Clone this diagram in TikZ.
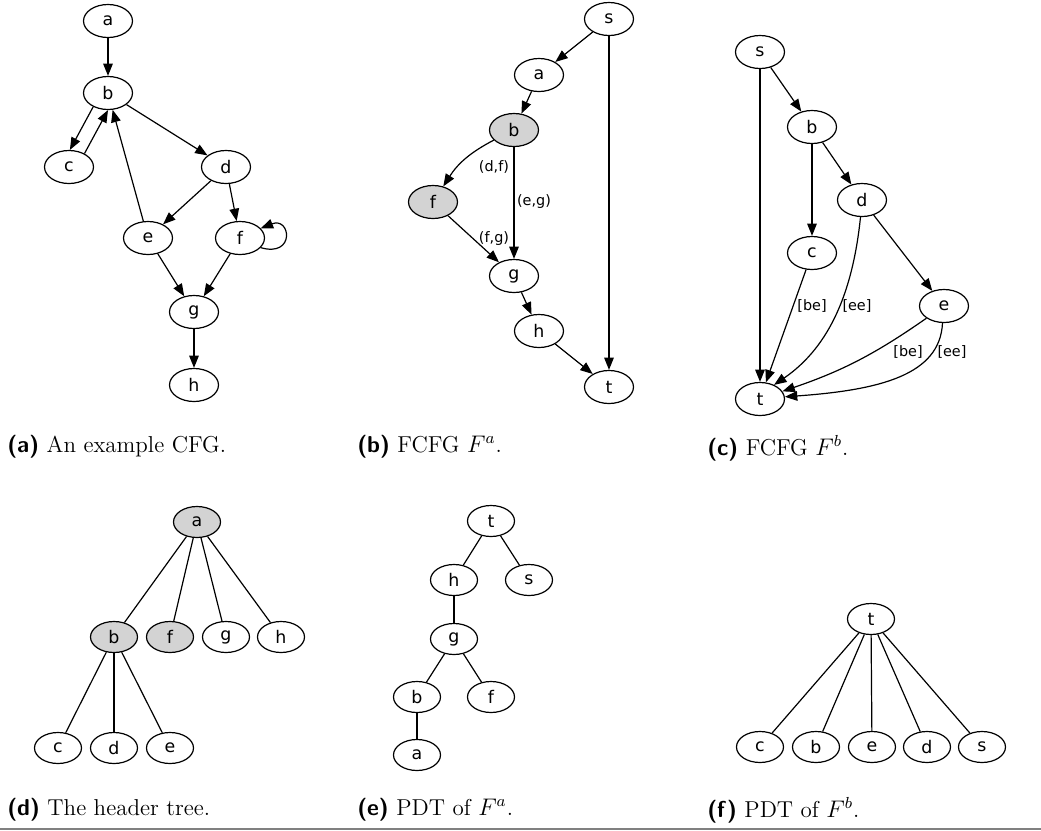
\documentclass[tikz,border=0pt]{standalone}
\usepackage{fontspec}
\newfontfamily\nodefont{DejaVu Sans}
\usetikzlibrary{shapes.geometric,arrows.meta}
\definecolor{nodegray}{RGB}{211,211,211}
\begin{document}
\begin{tikzpicture}[x=0.5pt,y=-0.5pt,
  gv/.style={ellipse,draw,line width=0.6pt,minimum width=24.5pt,minimum height=16.5pt,inner sep=0pt,font=\nodefont\fontsize{8.7}{10}\selectfont},
  tn/.style={gv,minimum width=23.5pt,minimum height=15.5pt},
  hl/.style={fill=nodegray},
  arr/.style={-{Triangle[length=6.2pt,width=4.8pt]},line width=0.6pt},
  ln/.style={line width=0.6pt},
  elab/.style={font=\nodefont\fontsize{7.2}{8}\selectfont,inner sep=0pt},
  captxt/.style={anchor=base west,inner sep=0pt,font=\fontsize{11.5}{13}\selectfont},
]
\useasboundingbox (0,0) rectangle (1041,831);

% ---------- (a) ----------
\node[gv] (a1) at (108,21) {a};
\node[gv] (b1) at (108,93) {b};
\node[gv] (c1) at (69,167) {c};
\node[gv] (d1) at (226,167) {d};
\node[gv] (e1) at (148,238) {e};
\node[gv] (f1) at (240,238) {f};
\node[gv] (g1) at (194,312) {g};
\node[gv] (h1) at (194,385) {h};
\draw[arr] (a1) -- (b1);
\draw[arr] (b1.223) -- (c1.87);
\draw[arr] (c1.41) -- (b1.270);
\draw[arr] (b1) -- (d1);
\draw[arr] (e1) -- (b1);
\draw[arr] (d1) -- (e1);
\draw[arr] (d1) -- (f1);
\draw[arr] (e1) -- (g1);
\draw[arr] (f1) -- (g1);
\draw[arr] (g1) -- (h1);
\draw[arr] (f1.-25) .. controls +(35,10) and +(30,-12) .. (f1.25);

% ---------- (b) ----------
\node[gv] (s2) at (609,19) {s};
\node[gv] (a2) at (539,75) {a};
\node[gv,hl] (b2) at (514,130) {b};
\node[gv,hl] (f2) at (433,202) {f};
\node[gv] (g2) at (514,276) {g};
\node[gv] (h2) at (539,331) {h};
\node[gv] (t2) at (609,387) {t};
\draw[arr] (s2) -- (a2);
\draw[arr] (s2) -- (t2);
\draw[arr] (a2) -- (b2);
\draw[arr] (b2) to[bend right=15] (f2);
\draw[arr] (b2) -- (g2);
\draw[arr] (f2) -- (g2);
\draw[arr] (g2) -- (h2);
\draw[arr] (h2) -- (t2);
\node[elab] (l1) at (494,167) {(d,f)};
\node[elab] (l2) at (534,202) {(e,g)};
\node[elab] (l3) at (494,239) {(f,g)};

% ---------- (c) ----------
\node[gv] (s3) at (760,52) {s};
\node[gv] (b3) at (812,127) {b};
\node[gv] (d3) at (862,200) {d};
\node[gv] (c3) at (812,253) {c};
\node[gv] (e3) at (944,306) {e};
\node[gv] (t3) at (760,399) {t};
\draw[arr] (s3) -- (b3);
\draw[arr] (s3) -- (t3);
\draw[arr] (b3) -- (c3);
\draw[arr] (b3) -- (d3);
\draw[arr] (d3) -- (e3);
\draw[arr] (c3) -- (t3);
\draw[arr] (d3.265) .. controls (852,300) and (825,350) .. (t3.45);
\draw[arr] (e3) to[bend left=8] (t3);
\draw[arr] (e3.265) .. controls (940,375) and (880,390) .. (t3.5);
\node[elab] (l4) at (812,306) {[be]};
\node[elab] (l5) at (857,306) {[ee]};
\node[elab] (l6) at (908,352) {[be]};
\node[elab] (l7) at (952,352) {[ee]};

% ---------- (d) ----------
\node[tn,hl] (a4) at (197,522) {a};
\node[tn,hl] (b4) at (114,637) {b};
\node[tn,hl] (f4) at (170,637) {f};
\node[tn] (g4) at (226,637) {g};
\node[tn] (h4) at (281,637) {h};
\node[tn] (c4) at (58,748) {c};
\node[tn] (d4) at (114,748) {d};
\node[tn] (e4) at (170,748) {e};
\draw[ln] (a4) -- (b4);
\draw[ln] (a4) -- (f4);
\draw[ln] (a4) -- (g4);
\draw[ln] (a4) -- (h4);
\draw[ln] (b4) -- (c4);
\draw[ln] (b4) -- (d4);
\draw[ln] (b4) -- (e4);

% ---------- (e) ----------
\node[tn] (t5) at (491,521) {t};
\node[tn] (h5) at (454,580) {h};
\node[tn] (s5) at (529,580) {s};
\node[tn] (g5) at (454,639) {g};
\node[tn] (b5) at (417,697) {b};
\node[tn] (f5) at (491,697) {f};
\node[tn] (a5) at (417,755) {a};
\draw[ln] (t5) -- (h5);
\draw[ln] (t5) -- (s5);
\draw[ln] (h5) -- (g5);
\draw[ln] (g5) -- (b5);
\draw[ln] (g5) -- (f5);
\draw[ln] (b5) -- (a5);

% ---------- (f) ----------
\node[tn] (t6) at (871,619) {t};
\node[tn] (c6) at (760,747) {c};
\node[tn] (b6) at (816,747) {b};
\node[tn] (e6) at (872,747) {e};
\node[tn] (d6) at (927,747) {d};
\node[tn] (s6) at (982,747) {s};
\draw[ln] (t6) -- (c6);
\draw[ln] (t6) -- (b6);
\draw[ln] (t6) -- (e6);
\draw[ln] (t6) -- (d6);
\draw[ln] (t6) -- (s6);

% ---------- captions ----------
\node[captxt] (capa) at (7,452) {\textsf{\bfseries (a)} An example CFG.};
\node[captxt] (capb) at (357,452) {\textsf{\bfseries (b)} FCFG $F^a$.};
\node[captxt] (capc) at (707,455) {\textsf{\bfseries (c)} FCFG $F^b$.};
\node[captxt] (capd) at (7,815) {\textsf{\bfseries (d)} The header tree.};
\node[captxt] (cape) at (357,815) {\textsf{\bfseries (e)} PDT of $F^a$.};
\node[captxt] (capf) at (707,817) {\textsf{\bfseries (f)} PDT of $F^b$.};

\draw[gray,line width=1.2pt] (0,829) -- (1041,829);
\end{tikzpicture}
\end{document}
